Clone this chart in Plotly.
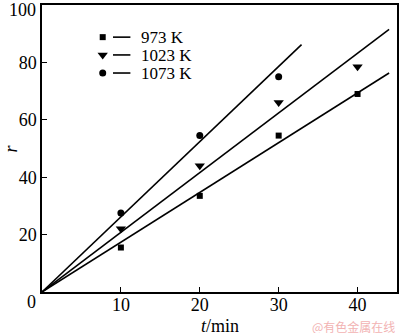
import plotly.graph_objects as go

# ---- data ----
series_names = ["973 K", "1023 K", "1073 K"]
t_973 = [10, 20, 30, 40]
r_973 = [15.5, 33.5, 54.5, 69.0]
t_1023 = [10, 20, 30, 40]
r_1023 = [22.0, 44.0, 66.0, 78.5]
t_1073 = [10, 20, 30]
r_1073 = [27.5, 54.5, 75.0]
# fitted lines through origin: slope and end time
fit_slopes = [1.734, 2.08, 2.62]
fit_t_end = [44.0, 44.0, 32.9]
x_ticks = [10, 20, 30, 40]
y_ticks = [20, 40, 60, 80, 100]
y_ticktext = ["20", "40", "60", "80", ""]  # "100" drawn as annotation at the top edge

symbols = ["square", "triangle-down", "circle"]
sizes = [6, 9, 7]
pts = [(t_973, r_973), (t_1023, r_1023), (t_1073, r_1073)]

FONT = "Liberation Serif"
fig = go.Figure()

for i in range(3):
    t0, t1 = 0, fit_t_end[i]
    fig.add_trace(go.Scatter(
        x=[t0, t1], y=[fit_slopes[i] * t0, fit_slopes[i] * t1],
        mode="lines", line=dict(color="black", width=1.6),
        showlegend=False, hoverinfo="skip"))
    fig.add_trace(go.Scatter(
        x=pts[i][0], y=pts[i][1], mode="markers",
        marker=dict(symbol=symbols[i], size=sizes[i], color="black",
                    line=dict(width=0)),
        showlegend=False))

# legend keys on an invisible overlay axis (paper-like 0..1)
leg_rows = [0.888, 0.826, 0.763]
for i in range(3):
    fig.add_trace(go.Scatter(
        x=[0.171], y=[leg_rows[i]], xaxis="x2", yaxis="y2", mode="markers",
        marker=dict(symbol=symbols[i], size=sizes[i], color="black", line=dict(width=0)),
        showlegend=False, hoverinfo="skip"))
    fig.add_shape(type="line", xref="paper", yref="paper",
                  x0=0.200, x1=0.249, y0=leg_rows[i], y1=leg_rows[i],
                  line=dict(color="black", width=1.6))
    fig.add_annotation(text=series_names[i], xref="paper", yref="paper",
                       x=0.278, y=leg_rows[i], xanchor="left", yanchor="middle",
                       height=14, valign="middle", borderpad=0, borderwidth=0,
                       showarrow=False, font=dict(family=FONT, size=17, color="black"))

axis_common = dict(showline=True, linecolor="black", linewidth=1.5, mirror=True,
                   ticks="inside", ticklen=5, tickwidth=1.2, tickcolor="black",
                   showgrid=False, zeroline=False,
                   tickfont=dict(family=FONT, size=18, color="black"))

fig.update_layout(
    width=400, height=335,
    margin=dict(l=42, r=1, t=5, b=43),
    paper_bgcolor="white", plot_bgcolor="white",
    xaxis=dict(range=[0, 45], tickvals=x_ticks, ticklabelstandoff=-4, **axis_common),
    yaxis=dict(range=[0, 100], tickvals=y_ticks, ticktext=y_ticktext, **axis_common),
    xaxis2=dict(range=[0, 1], overlaying="x", visible=False, fixedrange=True),
    yaxis2=dict(range=[0, 1], overlaying="y", visible=False, fixedrange=True),
    showlegend=False,
)

# top tick label, corner zero, axis titles, watermark
fig.add_annotation(text="100", xref="paper", yref="paper", x=-0.017, y=0.984,
                   xanchor="right", yanchor="middle", showarrow=False,
                   borderpad=0, borderwidth=0, height=14,
                   font=dict(family=FONT, size=18, color="black"))
fig.add_annotation(text="0", xref="paper", yref="paper", x=-0.011, y=-0.035,
                   xanchor="right", yanchor="middle", showarrow=False,
                   font=dict(family=FONT, size=18, color="black"))
fig.add_annotation(text="<i>r</i>", xref="paper", yref="paper", x=-0.09, y=0.50,
                   xanchor="center", yanchor="middle",
                   textangle=-90, showarrow=False,
                   font=dict(family=FONT, size=18, color="black"))
fig.add_annotation(text="<i>t</i>/min", xref="paper", yref="paper", x=0.50, y=-0.117,
                   xanchor="center", yanchor="middle", showarrow=False,
                   borderpad=0, borderwidth=0, height=16,
                   font=dict(family=FONT, size=18, color="black"))
fig.add_annotation(text="@有色金属在线", xref="paper", yref="paper", x=0.995, y=-0.117,
                   xanchor="right", yanchor="middle", showarrow=False,
                   borderpad=0, borderwidth=0, height=14,
                   font=dict(family="Noto Sans CJK SC", size=12, color="#f2b3b3"))

fig.write_html("out.html")
